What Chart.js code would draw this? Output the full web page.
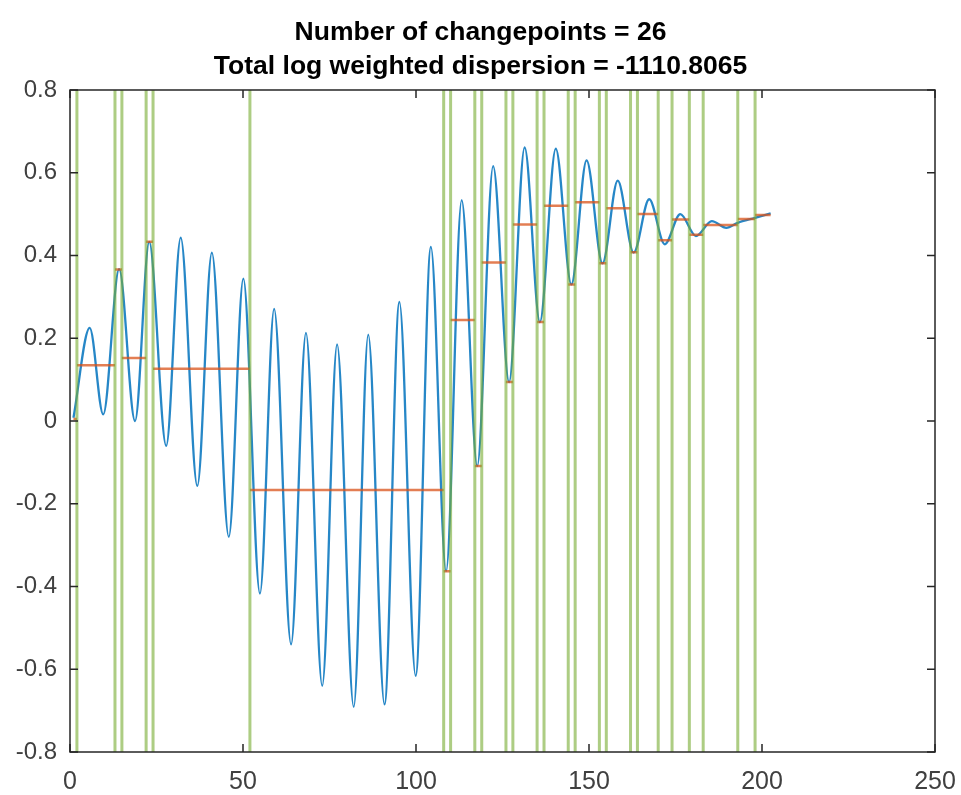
<!DOCTYPE html>
<html>
<head>
<meta charset="utf-8">
<script src="https://cdn.jsdelivr.net/npm/chart.js@4.4.1/dist/chart.umd.min.js"></script>
<style>
  body { margin: 0; background: #fff; }
  #wrap { width: 961px; height: 795px; }
</style>
</head>
<body>
<div id="wrap"><canvas id="grafico" width="961" height="795"></canvas></div>
<script>
// segnale: massimi e minimi delle oscillazioni (x = indice del campione)
var sigX = [1, 5.7, 9.6, 14.2, 18.8, 22.9, 27.8, 32.0, 36.8, 41.0, 45.9, 50.1, 54.9, 59.0, 63.9,
            68.2, 72.9, 77.2, 82.0, 86.2, 90.9, 95.2, 99.9, 104.3, 108.7, 113.2, 117.7, 122.3,
            126.9, 131.4, 135.8, 140.4, 144.9, 149.3, 153.9, 158.3, 162.9, 167.4, 171.9, 176.4,
            180.9, 185.5, 189.7, 193, 198, 202.5];
var sigY = [0.008, 0.225, 0.016, 0.367, 0.0, 0.433, -0.06, 0.443, -0.157, 0.407, -0.28, 0.344,
            -0.417, 0.271, -0.54, 0.213, -0.64, 0.185, -0.691, 0.209, -0.685, 0.288, -0.616, 0.421,
            -0.363, 0.534, -0.109, 0.616, 0.094, 0.661, 0.239, 0.658, 0.330, 0.630, 0.381, 0.581,
            0.407, 0.536, 0.427, 0.500, 0.447, 0.483, 0.467, 0.479, 0.491, 0.502];

// punti di cambio e media di ogni tratto
var changepoints = [2, 13, 15, 22, 24, 52, 108, 110, 117, 119, 126, 128, 135, 137, 144, 146,
                    153, 155, 162, 164, 170, 174, 179, 183, 193, 198];
var medie = [0.005, 0.135, 0.366, 0.152, 0.433, 0.126, -0.167, -0.363, 0.244, -0.109, 0.383,
             0.094, 0.475, 0.239, 0.520, 0.330, 0.529, 0.381, 0.514, 0.408, 0.500, 0.437,
             0.487, 0.450, 0.474, 0.488, 0.498];
var inizio = 1, fine = 202.5;

var xTicks = [0, 50, 100, 150, 200, 250];
var yTicks = [-0.8, -0.6, -0.4, -0.2, 0, 0.2, 0.4, 0.6, 0.8];
var titolo = ['Number of changepoints = 26', 'Total log weighted dispersion = -1110.8065'];

var font = '"Liberation Sans", Arial, Helvetica, sans-serif';

// punti della curva
var segnale = [];
for (var i = 0; i < sigX.length; i++) segnale.push({x: sigX[i], y: sigY[i]});

// linee verticali sui punti di cambio (null per staccare una linea dall'altra)
var verticali = [];
changepoints.forEach(function(c) {
  verticali.push({x: c, y: yTicks[0]}, {x: c, y: yTicks[yTicks.length - 1]}, {x: c, y: null});
});

// tratti orizzontali con la media
var bordi = [inizio].concat(changepoints, [fine]);
var tratti = [];
for (var j = 0; j < medie.length; j++) {
  tratti.push({x: bordi[j], y: medie[j]}, {x: bordi[j + 1], y: medie[j]}, {x: bordi[j + 1], y: null});
}

// cornice con le tacche verso l'interno su tutti e quattro i lati
var cornice = {
  id: 'cornice',
  afterDraw: function(chart) {
    var ctx = chart.ctx, a = chart.chartArea;
    var sx = chart.scales.x, sy = chart.scales.y;
    ctx.save();
    ctx.strokeStyle = '#262626';
    ctx.lineWidth = 1.5;
    ctx.strokeRect(a.left, a.top, a.right - a.left, a.bottom - a.top);
    ctx.beginPath();
    sx.ticks.forEach(function(t) {
      var px = sx.getPixelForValue(t.value);
      ctx.moveTo(px, a.bottom); ctx.lineTo(px, a.bottom - 8);
      ctx.moveTo(px, a.top); ctx.lineTo(px, a.top + 8);
    });
    sy.ticks.forEach(function(t) {
      var py = sy.getPixelForValue(t.value);
      ctx.moveTo(a.left, py); ctx.lineTo(a.left + 8, py);
      ctx.moveTo(a.right, py); ctx.lineTo(a.right - 8, py);
    });
    ctx.stroke();
    ctx.restore();
  }
};

new Chart(document.getElementById('grafico').getContext('2d'), {
  type: 'line',
  data: {
    datasets: [
      {
        label: 'changepoints',
        data: verticali,
        borderColor: 'rgba(119, 172, 48, 0.6)',
        borderWidth: 3,
        pointRadius: 0,
        spanGaps: false
      },
      {
        label: 'medie',
        data: tratti,
        borderColor: 'rgba(217, 83, 25, 0.75)',
        borderWidth: 2.5,
        pointRadius: 0,
        spanGaps: false
      },
      {
        label: 'segnale',
        data: segnale,
        borderColor: 'rgba(0, 114, 189, 0.85)',
        borderWidth: 2.3,
        pointRadius: 0,
        cubicInterpolationMode: 'monotone'
      }
    ]
  },
  options: {
    responsive: false,
    animation: false,
    layout: { padding: 0 },
    plugins: {
      legend: { display: false },
      tooltip: { enabled: false },
      title: {
        display: true,
        text: titolo,
        color: '#000',
        font: { family: font, size: 26.5, weight: 'bold', lineHeight: 1.283 },
        padding: { top: 16, bottom: 6 }
      }
    },
    scales: {
      x: {
        type: 'linear',
        min: 0, max: 250,
        afterBuildTicks: function(s) { s.ticks = xTicks.map(function(v) { return {value: v}; }); },
        // le etichette agli estremi escono dal riquadro senza stringerlo
        afterFit: function(s) { s.height = 43; s.paddingLeft = 0; s.paddingRight = 0; },
        grid: { display: false, drawTicks: false },
        border: { display: false },
        ticks: { color: '#404040', padding: 15, font: { family: font, size: 25 },
                 maxRotation: 0, callback: function(v) { return String(v); } }
      },
      y: {
        type: 'linear',
        min: -0.8, max: 0.8,
        afterBuildTicks: function(s) { s.ticks = yTicks.map(function(v) { return {value: v}; }); },
        afterFit: function(s) { s.width = 70; },
        grid: { display: false, drawTicks: false },
        border: { display: false },
        ticks: { color: '#404040', padding: 13, font: { family: font, size: 24 },
                 callback: function(v) { return String(Number(v.toFixed(1))); } }
      },
      // asse vuoto a destra: solo spazio, senza etichette
      destra: {
        type: 'linear',
        position: 'right',
        min: -0.8, max: 0.8,
        afterFit: function(s) { s.width = 26; },
        grid: { display: false, drawTicks: false },
        border: { display: false },
        ticks: { display: false }
      }
    }
  },
  plugins: [cornice]
});
</script>
</body>
</html>
